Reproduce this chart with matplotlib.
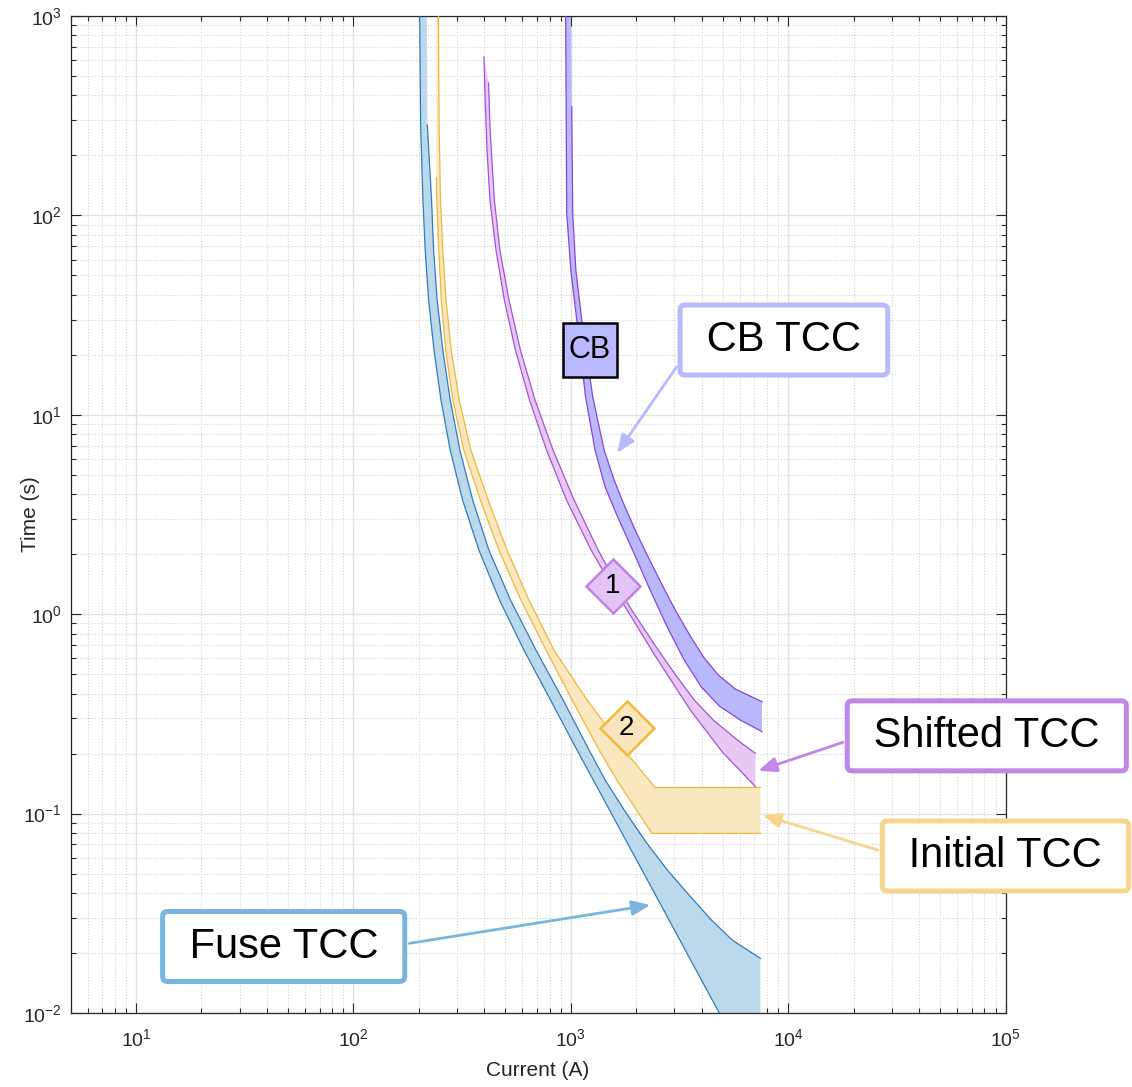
import numpy as np
import matplotlib.pyplot as plt

plt.rcParams['font.family'] = ['Liberation Sans', 'DejaVu Sans']
plt.rcParams['mathtext.default'] = 'regular'

# fuse TCC: minimum melt (left edge) and total clearing (right edge), current in A, time in s
fuse_melt_I = [202, 204, 209, 214, 222, 235, 253, 279, 318, 378, 470, 609, 807, 1069, 1424, 1896, 2526, 3363, 4824, 7457]
fuse_melt_t = [1000, 284, 119.4, 67.1, 37.6, 21.1, 11.87, 6.66, 3.74, 2.10, 1.178, 0.661, 0.3715, 0.2085, 0.117, 0.0657, 0.0369, 0.0207, 0.01, 0.0042]
fuse_clear_I = [218, 219, 229, 234, 243, 258, 279, 309, 354, 420, 528, 692, 922, 1214, 1439, 1798, 2236, 2779, 3435, 4431, 5537, 7457]
fuse_clear_t = [1000, 284, 119.4, 67.1, 37.6, 21.1, 11.87, 6.66, 3.74, 2.10, 1.178, 0.661, 0.3715, 0.2085, 0.1474, 0.1007, 0.0712, 0.0522, 0.0400, 0.0293, 0.0232, 0.0188]
fuse_clear_tmax = 284

# initial relay TCC band
init_lower_I = [240.7, 241.2, 242, 247, 254, 266, 287, 322, 384, 467, 590, 770, 1014, 1350, 1629, 2362, 7457]
init_lower_t = [1000, 154, 119.4, 67.1, 37.6, 21.1, 11.87, 6.66, 3.74, 2.10, 1.178, 0.661, 0.3715, 0.2085, 0.1474, 0.0796, 0.0796]
init_lower_tmax = 154
init_upper_I = [246.5, 248, 251.7, 258, 267, 282, 307, 347, 417, 509, 642, 837, 1189, 1811, 2446, 7457]
init_upper_t = [1000, 284, 119.4, 67.1, 37.6, 21.1, 11.87, 6.66, 3.74, 2.10, 1.178, 0.661, 0.3715, 0.2006, 0.1352, 0.1352]

# shifted relay TCC band
shift_lower_I = [399, 404, 412, 425, 453, 495, 557, 646, 774, 956, 1240, 1542, 1817, 2433, 3546, 4981, 7069]
shift_lower_t = [623, 379, 212.8, 119.4, 67.1, 37.6, 21.1, 11.87, 6.66, 3.74, 2.10, 1.393, 1.05, 0.624, 0.331, 0.2037, 0.1365]
shift_upper_I = [419, 425, 434, 445.5, 472, 520, 587, 685, 829, 1036, 1336, 1635, 1906, 2526, 3040, 3700, 4526, 5840, 7069]
shift_upper_t = [461, 284, 189.6, 119.4, 67.1, 37.6, 21.1, 11.87, 6.66, 3.74, 2.10, 1.40, 1.05, 0.661, 0.4955, 0.3715, 0.2946, 0.2339, 0.2006]

# circuit breaker TCC band
cb_lower_I = [948, 952, 958.5, 1001, 1066, 1170, 1294, 1439, 1629, 1943, 2319, 2779, 3327, 3987, 4824, 6029, 7586]
cb_lower_t = [1000, 379, 102.8, 53.2, 29.9, 12.3, 6.66, 4.345, 3.145, 2.05, 1.322, 0.8626, 0.589, 0.4314, 0.3464, 0.2946, 0.2575]
cb_upper_I = [1003, 1007, 1011, 1021, 1056, 1124, 1263, 1424, 1584, 1761, 1979, 2212, 2593, 3025, 3546, 4083, 4774, 5716, 7586]
cb_upper_t = [1000, 602, 351, 102.8, 53.2, 29.9, 12.3, 6.66, 4.71, 3.53, 2.644, 2.05, 1.45, 1.05, 0.7777, 0.6098, 0.4955, 0.4216, 0.364]
cb_upper_tmax = 351

# labels: (current, time) of markers and arrow targets
cb_tag = (1227, 21.1)
diamond1 = (1558, 1.39)
diamond2 = (1807, 0.268)
cb_arrow = (1635, 6.43)
shift_arrow = (7295, 0.164)
init_arrow = (7620, 0.0984)
fuse_arrow = (2323, 0.0348)


def band(ax, lo_I, lo_t, hi_I, hi_t, fill, line, lo_max=None, hi_max=None):
    lo_I, lo_t, hi_I, hi_t = map(np.asarray, (lo_I, lo_t, hi_I, hi_t))
    ax.fill(np.r_[lo_I, hi_I[::-1]], np.r_[lo_t, hi_t[::-1]], color=fill, lw=0, zorder=2)
    m1 = lo_t <= (lo_max if lo_max else np.inf)
    m2 = hi_t <= (hi_max if hi_max else np.inf)
    ax.plot(lo_I[m1], lo_t[m1], color=line, lw=0.9, zorder=3)
    ax.plot(hi_I[m2], hi_t[m2], color=line, lw=0.9, zorder=3)


fig = plt.figure(figsize=(11.32, 10.87), dpi=100)
ax = fig.add_axes([70.5 / 1132, 1 - 1013 / 1087, 935 / 1132, 997 / 1087])
ax.set_xscale('log')
ax.set_yscale('log')
ax.set_xlim(5, 1e5)
ax.set_ylim(1e-2, 1e3)

band(ax, fuse_melt_I, fuse_melt_t, fuse_clear_I, fuse_clear_t, '#bcd9ec', '#2f7dbb', hi_max=fuse_clear_tmax)
band(ax, init_lower_I, init_lower_t, init_upper_I, init_upper_t, '#f9e7c0', '#efb83a', lo_max=init_lower_tmax)
band(ax, shift_lower_I, shift_lower_t, shift_upper_I, shift_upper_t, '#e6c8f3', '#a553d8')
band(ax, cb_lower_I, cb_lower_t, cb_upper_I, cb_upper_t, '#b8b8fb', '#8b42e0', hi_max=cb_upper_tmax)

# grid, MATLAB style
ax.grid(True, which='major', color='#e2e2e2', lw=1.0, ls='-', zorder=0)
ax.grid(True, which='minor', color='#d4d4d4', lw=0.8, ls=':', zorder=0)
ax.set_axisbelow(True)
for s in ax.spines.values():
    s.set_color('#262626')
    s.set_linewidth(0.9)
ax.tick_params(which='both', direction='in', top=True, right=True, color='#262626', width=0.8)
ax.tick_params(which='major', length=7)
ax.tick_params(which='minor', length=3.5)
ax.tick_params(axis='x', which='major', labelsize=14, pad=11, labelcolor='#262626')
ax.tick_params(axis='y', which='major', labelsize=14, pad=6, labelcolor='#262626')
ax.set_xlabel('Current (A)', fontsize=15, color='#262626', labelpad=8)
ax.set_ylabel('Time (s)', fontsize=15, color='#262626')
ax.yaxis.set_label_coords(-0.033, 0.5)

# curve tags
ax.plot(*cb_tag, marker='s', ms=39, mfc='#b9b9ff', mec='black', mew=1.8, zorder=5)
ax.text(*cb_tag, 'CB', fontsize=22, ha='center', va='center', zorder=6)
ax.plot(*diamond1, marker='D', ms=28, mfc='#e4c4f4', mec='#c083e4', mew=1.8, zorder=5)
ax.text(*diamond1, '1', fontsize=20, ha='center', va='center', zorder=6)
ax.plot(*diamond2, marker='D', ms=28, mfc='#f9e5bb', mec='#f0b83e', mew=1.8, zorder=5)
ax.text(*diamond2, '2', fontsize=20, ha='center', va='center', zorder=6)

# callout boxes
callouts = [
    (' CB TCC ', cb_arrow, (0.763, 0.675), '#b9b9ff', (0, 0.5)),
    (' Shifted TCC ', shift_arrow, (0.980, 0.278), '#c285e8', (0, 0.5)),
    (' Initial TCC ', init_arrow, (1.000, 0.1575), '#f6d68e', (0, 0.5)),
    (' Fuse TCC ', fuse_arrow, (0.228, 0.0667), '#7ab5df', (1, 0.5)),
]
for txt, xy, xyt, col, rp in callouts:
    ax.annotate(txt, xy=xy, xycoords='data', xytext=xyt, textcoords='axes fraction',
                ha='center', va='center', fontsize=30, zorder=7, annotation_clip=False,
                bbox=dict(boxstyle='round,pad=0.36,rounding_size=0.12', fc='white', ec=col, lw=3.6),
                arrowprops=dict(arrowstyle='-|>,head_length=1.1,head_width=0.45', color=col,
                                lw=2, mutation_scale=10, relpos=rp, shrinkB=0))

fig.savefig('out.png', dpi=100)
